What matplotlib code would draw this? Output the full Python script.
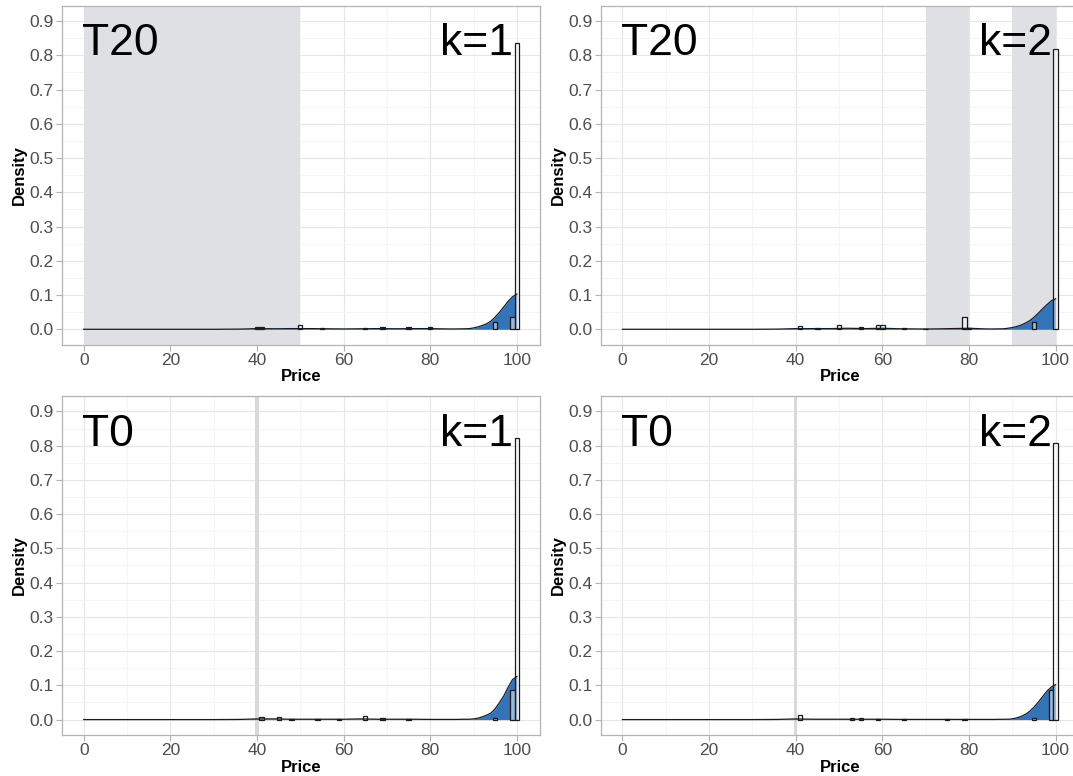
import numpy as np
import matplotlib
matplotlib.use('Agg')
import matplotlib.pyplot as plt
from matplotlib.ticker import MultipleLocator

plt.rcParams['font.family'] = ['Liberation Sans', 'DejaVu Sans']

# histogram bins (price) and densities, one pair per panel
t20_k1_bins = [40, 41, 50, 55, 65, 69, 75, 80, 95, 99, 100]
t20_k1_dens = [0.007, 0.007, 0.013, 0.004, 0.004, 0.006, 0.008, 0.006, 0.022, 0.035, 0.835]
t20_k2_bins = [41, 45, 50, 55, 59, 60, 65, 70, 79, 80, 95, 100]
t20_k2_dens = [0.010, 0.003, 0.012, 0.008, 0.012, 0.012, 0.003, 0.002, 0.036, 0.005, 0.022, 0.820]
t0_k1_bins = [41, 45, 48, 54, 59, 65, 69, 75, 95, 99, 100]
t0_k1_dens = [0.007, 0.007, 0.002, 0.002, 0.002, 0.011, 0.005, 0.003, 0.005, 0.085, 0.822]
t0_k2_bins = [41, 53, 55, 59, 65, 75, 79, 95, 99, 100]
t0_k2_dens = [0.012, 0.004, 0.004, 0.003, 0.001, 0.002, 0.002, 0.004, 0.085, 0.807]

# density curves
kde_x = [0, 30, 36, 40, 44, 48, 52, 56, 60, 64, 68, 72, 76, 80, 84, 86, 88,
         89, 90, 91, 92, 93, 94, 95, 96, 97, 98, 99, 100]
t20_k1_kde = [0, 0, .0005, .002, .0015, .002, .002, .0015, .001, .0015, .002, .0015, .002, .002, .001, .001, .0015,
              .002, .004, .007, .011, .016, .024, .036, .050, .066, .082, .095, .103]
t20_k2_kde = [0, 0, .0005, .002, .002, .002, .003, .002, .003, .0015, .001, .001, .002, .003, .001, .001, .0015,
              .003, .005, .008, .012, .018, .025, .035, .047, .060, .072, .083, .089]
t0_k1_kde = [0, 0, .0005, .002, .002, .001, .001, .001, .001, .002, .001, .001, .001, .0005, .0005, .0005, .001,
             .001, .002, .004, .008, .013, .019, .032, .050, .070, .095, .117, .126]
t0_k2_kde = [0, 0, .0005, .002, .001, .001, .001, .001, .001, .0005, .0005, .0005, .0005, .0005, .0005, .0005, .001,
             .001, .002, .005, .009, .015, .024, .036, .051, .067, .083, .095, .102]

# shaded ranges
t20_k1_shade = [(0, 50)]
t20_k2_shade = [(70, 80), (90, 100)]
t0_shade = [(39.6, 40.4)]

panels = [
    ('T20', 'k=1', t20_k1_bins, t20_k1_dens, t20_k1_kde, t20_k1_shade, '#DFE0E3'),
    ('T20', 'k=2', t20_k2_bins, t20_k2_dens, t20_k2_kde, t20_k2_shade, '#DFE0E3'),
    ('T0', 'k=1', t0_k1_bins, t0_k1_dens, t0_k1_kde, t0_shade, '#D9D9D9'),
    ('T0', 'k=2', t0_k2_bins, t0_k2_dens, t0_k2_kde, t0_shade, '#D9D9D9'),
]

W, H = 1073, 776
fig = plt.figure(figsize=(W / 100, H / 100), dpi=100)

# axes boxes in pixels: left, top
boxes = [(62.3, 5.7), (601.0, 5.7), (62.3, 396.0), (601.0, 396.0)]
aw, ah = 478, 339

for (tlab, klab, bins, dens, kde, shades, scol), (lx, ty) in zip(panels, boxes):
    ax = fig.add_axes([lx / W, 1 - (ty + ah) / H, aw / W, ah / H])
    ax.set_xlim(-4.95, 105.4)
    ax.set_ylim(-0.045, 0.945)

    # grid
    ax.xaxis.set_major_locator(MultipleLocator(20))
    ax.xaxis.set_minor_locator(MultipleLocator(10))
    ax.yaxis.set_major_locator(MultipleLocator(0.1))
    ax.yaxis.set_minor_locator(MultipleLocator(0.05))
    ax.grid(which='major', color='#E6E6E6', lw=0.8, zorder=0)
    ax.grid(which='minor', color='#F2F2F2', lw=0.5, zorder=0)
    ax.set_axisbelow(True)

    for a, b in shades:
        ax.axvspan(a, b, color=scol, lw=0, zorder=1)

    # density + histogram
    ax.fill_between(kde_x, kde, 0, color='#3473B7', lw=0, zorder=2)
    ax.bar(bins, dens, width=1, color=(1, 1, 1, 0.5), edgecolor='#1A1A1A', lw=0.9, zorder=3)
    ax.plot(kde_x, kde, color='#1A1A1A', lw=0.9, zorder=4)

    ax.text(-0.3, 0.80, tlab, fontsize=32, ha='left', va='baseline', zorder=5)
    ax.text(99.1, 0.80, klab, fontsize=32, ha='right', va='baseline', zorder=5)

    ax.set_yticks(np.arange(0, 0.91, 0.1))
    ax.set_yticklabels(['%.1f' % v for v in np.arange(0, 0.91, 0.1)])
    ax.tick_params(which='major', length=4, width=0.8, color='#B3B3B3',
                   labelsize=12.5, labelcolor='#4D4D4D', pad=2)
    ax.tick_params(which='minor', length=0)
    for s in ax.spines.values():
        s.set_color('#B3B3B3')
        s.set_linewidth(0.9)

    ax.set_xlabel('Price', fontsize=12, fontweight='bold', labelpad=1)
    ax.set_ylabel('Density', fontsize=12, fontweight='bold', labelpad=2)

fig.savefig('out.png', dpi=100)
